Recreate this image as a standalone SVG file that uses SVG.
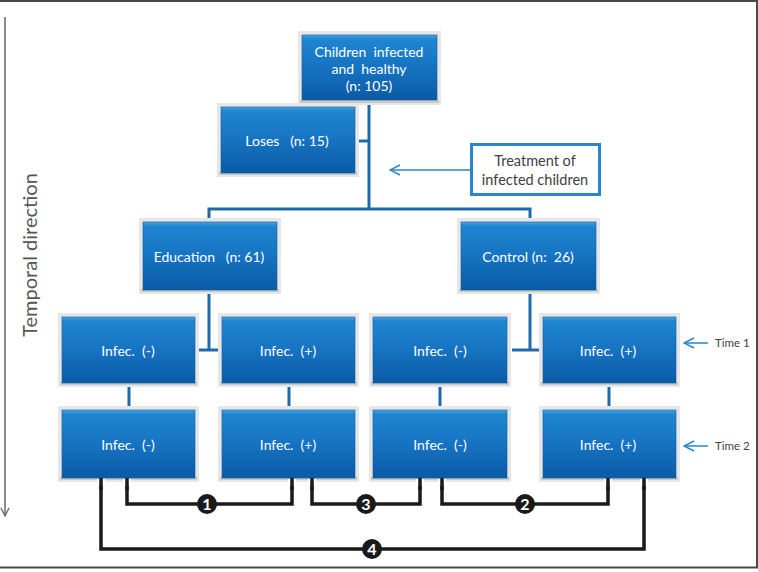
<svg xmlns="http://www.w3.org/2000/svg" width="758" height="572" viewBox="0 0 758 572">
<defs>
<linearGradient id="bg" x1="0" y1="0" x2="0" y2="1">
<stop offset="0" stop-color="#4aa6e6"/>
<stop offset="0.06" stop-color="#1f86d2"/>
<stop offset="0.5" stop-color="#1673c2"/>
<stop offset="1" stop-color="#0b5aa5"/>
</linearGradient>
<marker id="ah" viewBox="0 0 12 12" refX="1" refY="6" markerWidth="12" markerHeight="12" markerUnits="userSpaceOnUse" orient="auto">
<path d="M11,1 L1,6 L11,11" fill="none" stroke="#2a86cc" stroke-width="1.5"/>
</marker>
<marker id="ahg" viewBox="0 0 12 12" refX="11" refY="6" markerWidth="10" markerHeight="10" markerUnits="userSpaceOnUse" orient="auto">
<path d="M1,1 L11,6 L1,11" fill="none" stroke="#666" stroke-width="1.5"/>
</marker>
</defs>
<style>
.sh{fill:#e6e6e6;}
.shb{fill:#c8c8c8;}
.box{fill:url(#bg);stroke:#0d5a9e;stroke-width:0.6;}
.bt{fill:#ffffff;font-family:Lato,"Open Sans",sans-serif;font-size:14px;text-anchor:middle;white-space:pre;}
.bl{fill:none;stroke:#1f6aaa;stroke-width:3;}
.halo{fill:none;stroke:#ffffff;stroke-width:8;}
.blk{fill:none;stroke:#1a1a1a;stroke-width:3.5;}
.num{fill:#1a1a1a;}
.nt{fill:#ffffff;font-family:Lato,"Open Sans",sans-serif;font-size:16px;font-weight:bold;text-anchor:middle;}
.gt{fill:#404040;font-family:Lato,"Open Sans",sans-serif;}
.ar{fill:none;stroke:#2a86cc;stroke-width:1.5;}
</style>
<rect x="0" y="0" width="758" height="572" fill="#ffffff"/>
<g id="frame">
<line x1="0" y1="1" x2="758" y2="1" stroke="#4a4a4a" stroke-width="2"/>
<line x1="757" y1="0" x2="757" y2="568" stroke="#4a4a4a" stroke-width="2"/>
<line x1="0" y1="567.5" x2="758" y2="567.5" stroke="#4a4a4a" stroke-width="2"/>
</g>
<g id="temporal">
<line x1="5" y1="17" x2="5" y2="516" stroke="#666" stroke-width="1.5" marker-end="url(#ahg)"/>
<text fill="#555" font-family="Lato, 'Open Sans', sans-serif" font-size="20" text-anchor="middle" transform="translate(37,255) rotate(-90)">Temporal direction</text>
</g>
<g id="connectors">
<path class="bl" d="M369,101 V209"/>
<path class="bl" d="M355,141 H369"/>
<path class="bl" d="M209,222 V209 H530 V222"/>
<path class="bl" d="M209,290 V350 M199,350 H218"/>
<path class="bl" d="M530,290 V350 M512,350 H539"/>
<path class="bl" d="M129,383 V410 M289,383 V410 M440,383 V410 M609,383 V410"/>
<line class="ar" x1="390" y1="170" x2="470" y2="170" marker-start="url(#ah)"/>
<line class="ar" x1="684" y1="343" x2="708" y2="343" marker-start="url(#ah)"/>
<line class="ar" x1="684" y1="446" x2="708" y2="446" marker-start="url(#ah)"/>
<g id="compare">
<path class="halo" d="M127,479 V504 H292 V479"/>
<path class="halo" d="M312,479 V504 H420 V479"/>
<path class="halo" d="M442,479 V504 H608 V479"/>
<path class="halo" d="M101,479 V549 H644 V479"/>
<path class="blk" d="M127,479 V504 H292 V479"/>
<path class="blk" d="M312,479 V504 H420 V479"/>
<path class="blk" d="M442,479 V504 H608 V479"/>
<path class="blk" d="M101,479 V549 H644 V479"/>
<circle class="num" cx="207" cy="504" r="10"/>
<text class="nt" x="207" y="510">1</text>
<circle class="num" cx="366" cy="504" r="10"/>
<text class="nt" x="366" y="510">3</text>
<circle class="num" cx="525" cy="504" r="10"/>
<text class="nt" x="525" y="510">2</text>
<circle class="num" cx="372" cy="549" r="10"/>
<text class="nt" x="372" y="555">4</text>
</g>
</g>
<g id="n-root">
<rect class="sh" x="298" y="31" width="143" height="74"/>
<rect class="shb" x="300" y="100" width="139" height="3"/>
<rect class="box" x="302" y="35" width="135" height="65"/>
<text class="bt" x="369" y="57">Children  infected</text>
<text class="bt" x="369" y="74">and  healthy</text>
<text class="bt" x="369" y="91">(n: 105)</text>
</g>
<g id="n-loses">
<rect class="sh" x="217" y="103" width="142" height="74"/>
<rect class="shb" x="219" y="172" width="138" height="3"/>
<rect class="box" x="221" y="107" width="134" height="66"/>
<text class="bt" x="287" y="146">Loses   (n: 15)</text>
</g>
<g id="n-treatment">
<rect x="471.5" y="144.5" width="128" height="50" fill="#ffffff" stroke="#2a86cc" stroke-width="3"/>
<text class="gt" font-size="14.5" text-anchor="middle" x="535" y="166">Treatment of</text>
<text class="gt" font-size="14.5" text-anchor="middle" x="535" y="185">infected children</text>
</g>
<g id="n-education">
<rect class="sh" x="139" y="218" width="142" height="76"/>
<rect class="shb" x="141" y="289" width="138" height="3"/>
<rect class="box" x="143" y="222" width="134" height="68"/>
<text class="bt" x="209" y="262">Education   (n: 61)</text>
</g>
<g id="n-control">
<rect class="sh" x="457" y="218" width="143" height="76"/>
<rect class="shb" x="459" y="289" width="139" height="3"/>
<rect class="box" x="461" y="222" width="135" height="68"/>
<text class="bt" x="528" y="262">Control (n:  26)</text>
</g>
<g id="n-r1a">
<rect class="sh" x="58" y="313" width="141" height="74"/>
<rect class="shb" x="60" y="382" width="137" height="3"/>
<rect class="box" x="62" y="317" width="133" height="66"/>
<text class="bt" x="128" y="356">Infec.  (-)</text>
</g>
<g id="n-r1b">
<rect class="sh" x="218" y="313" width="141" height="74"/>
<rect class="shb" x="220" y="382" width="137" height="3"/>
<rect class="box" x="222" y="317" width="133" height="66"/>
<text class="bt" x="288" y="356">Infec.  (+)</text>
</g>
<g id="n-r1c">
<rect class="sh" x="369" y="313" width="142" height="74"/>
<rect class="shb" x="371" y="382" width="138" height="3"/>
<rect class="box" x="373" y="317" width="134" height="66"/>
<text class="bt" x="440" y="356">Infec.  (-)</text>
</g>
<g id="n-r1d">
<rect class="sh" x="539" y="313" width="141" height="74"/>
<rect class="shb" x="541" y="382" width="137" height="3"/>
<rect class="box" x="543" y="317" width="133" height="66"/>
<text class="bt" x="608" y="356">Infec.  (+)</text>
</g>
<g id="n-r2a">
<rect class="sh" x="58" y="406" width="141" height="76"/>
<rect class="shb" x="60" y="477" width="137" height="3"/>
<rect class="box" x="62" y="410" width="133" height="68"/>
<text class="bt" x="128" y="450">Infec.  (-)</text>
</g>
<g id="n-r2b">
<rect class="sh" x="218" y="406" width="141" height="76"/>
<rect class="shb" x="220" y="477" width="137" height="3"/>
<rect class="box" x="222" y="410" width="133" height="68"/>
<text class="bt" x="288" y="450">Infec.  (+)</text>
</g>
<g id="n-r2c">
<rect class="sh" x="369" y="406" width="142" height="76"/>
<rect class="shb" x="371" y="477" width="138" height="3"/>
<rect class="box" x="373" y="410" width="134" height="68"/>
<text class="bt" x="440" y="450">Infec.  (-)</text>
</g>
<g id="n-r2d">
<rect class="sh" x="539" y="406" width="141" height="76"/>
<rect class="shb" x="541" y="477" width="137" height="3"/>
<rect class="box" x="543" y="410" width="133" height="68"/>
<text class="bt" x="608" y="450">Infec.  (+)</text>
</g>
<g id="n-time1">
<text class="gt" font-size="11.5" x="715" y="347">Time 1</text>
</g>
<g id="n-time2">
<text class="gt" font-size="11.5" x="715" y="450">Time 2</text>
</g>
<g id="compare-stubs">
<path class="halo" d="M127,479 V486 M292,479 V486 M312,479 V486 M420,479 V486 M442,479 V486 M608,479 V486 M101,479 V486 M644,479 V486" stroke-width="7"/>
<path class="blk" d="M127,478 V490 M292,478 V490 M312,478 V490 M420,478 V490 M442,478 V490 M608,478 V490 M101,478 V490 M644,478 V490"/>
</g>
</svg>
